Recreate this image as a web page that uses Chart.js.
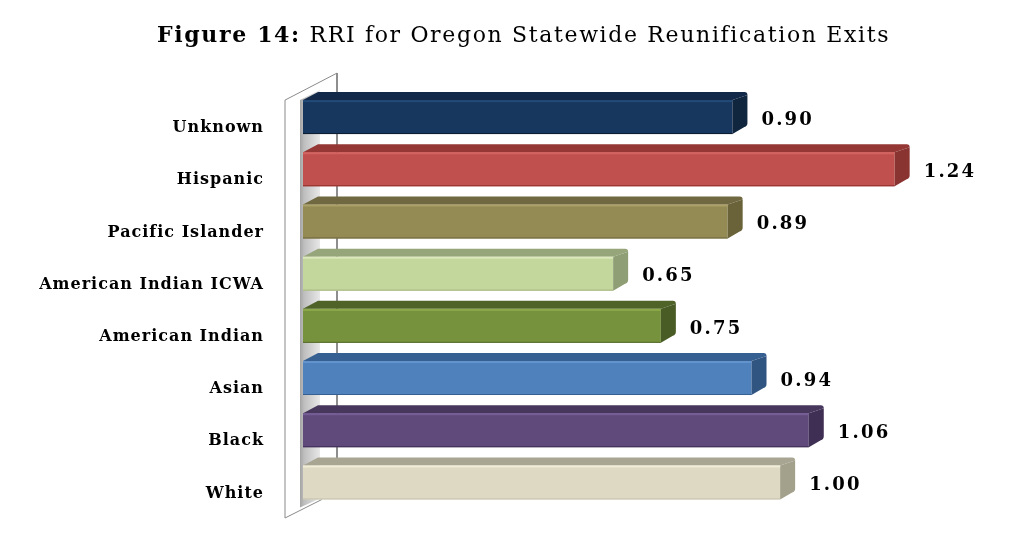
<!DOCTYPE html>
<html>
<head>
<meta charset="utf-8">
<style>html,body{margin:0;padding:0;background:#fff}canvas{display:block}</style>
<script src="https://cdn.jsdelivr.net/npm/chart.js@4"></script>
</head>
<body>
<canvas id="c" width="1024" height="535"></canvas>
<script>
const categories = ["Unknown","Hispanic","Pacific Islander","American Indian ICWA","American Indian","Asian","Black","White"];
const rri = [0.90,1.24,0.89,0.65,0.75,0.94,1.06,1.00];
const frontColors = ["#17375E","#C0504D","#948A54","#C3D69B","#76923C","#4F81BD","#604A7B","#DDD9C3"];
const topColors = ["#12294A","#953735","#6F6840","#96A57A","#4F6228","#366092","#47375C","#A8A593"];
const sideColors = ["#10263F","#8A3432","#6A6239","#8F9E74","#4A5C26","#2F5580","#3F2F54","#A3A08C"];
const lightColors = ["#234B78","#D4625F","#AAA068","#DCE8BC","#8CA94C","#6394CE","#755C94","#F0ECD6"];
const edgeColors = ["#0B1D33","#8E2F2D","#6D653C","#A6B684","#556B2A","#35608F","#3E2E55","#C6C3B0"];
const titleBold = "Figure 14:";
const titleRest = " RRI for Oregon Statewide Reunification Exits";
const SERIF = '"DejaVu Serif"';
const DX = 15, DY = 8;

const chrome = {
  id:"chrome",
  beforeDraw(chart){ chart.ctx.letterSpacing="1px"; },
  beforeDatasetsDraw(chart){
    const c = chart.ctx, a = chart.chartArea, bars = chart.getDatasetMeta(0).data;
    const L = a.left;
    const wallL = L-18, wallR = L+35, wallTop = bars[0].y-17, wallBot = a.bottom+9.5;
    c.save();
    c.strokeStyle="#8E8E8E"; c.lineWidth=2;
    c.beginPath(); c.moveTo(wallR-1,wallTop-27); c.lineTo(wallR-1,bars[7].y-20); c.stroke();
    const g = c.createLinearGradient(L-3,0,L+17,0);
    g.addColorStop(0,"#A4A4A4"); g.addColorStop(0.2,"#BEBEBE"); g.addColorStop(1,"#E8E8E8");
    c.fillStyle=g;
    c.beginPath();
    c.moveTo(L-3,bars[0].y-17); c.lineTo(L+17,bars[0].y-17-DY-2);
    c.lineTo(L+17,bars[7].y+17-1); c.lineTo(L-3,bars[7].y+17+8);
    c.closePath(); c.fill();
    c.strokeStyle="#8A8A8A"; c.lineWidth=1;
    c.beginPath();
    c.moveTo(wallR-1,wallTop-27); c.lineTo(wallL,wallTop); c.lineTo(wallL,wallBot);
    c.lineTo(L+19,bars[7].y+17); c.stroke();
    c.restore();
  },
  afterDatasetsDraw(chart){
    const c = chart.ctx, bars = chart.getDatasetMeta(0).data;
    c.save();
    bars.forEach((b,i)=>{
      const top=b.y-b.height/2, bot=b.y+b.height/2, x0=b.base, x1=b.x;
      c.fillStyle=topColors[i];
      c.beginPath(); c.moveTo(x0,top); c.lineTo(x0+DX,top-DY); c.lineTo(x1+DX-3,top-DY);
      c.quadraticCurveTo(x1+DX,top-DY,x1+DX,top-DY+3); c.lineTo(x1,top); c.closePath(); c.fill();
      c.fillStyle=sideColors[i];
      c.beginPath(); c.moveTo(x1,top); c.lineTo(x1+DX,top-DY+3); c.lineTo(x1+DX,bot-DY-3);
      c.quadraticCurveTo(x1+DX,bot-DY,x1+DX-3,bot-DY+1); c.lineTo(x1,bot); c.closePath(); c.fill();
      c.fillStyle=lightColors[i]; c.fillRect(x0,top,x1-x0,2);
      c.fillStyle=edgeColors[i]; c.fillRect(x0,bot-1,x1-x0,1);
      c.fillStyle="#000";
      c.font="bold 18px "+SERIF; c.textAlign="left"; c.textBaseline="middle";
      c.letterSpacing="2.2px";
      c.fillText(rri[i].toFixed(2),x1+29,b.y+3);
    });
    c.fillStyle="#000"; c.textBaseline="alphabetic"; c.textAlign="left"; c.letterSpacing="1.65px";
    c.font="bold 22px "+SERIF;
    const w=c.measureText(titleBold).width;
    c.fillText(titleBold,157,42);
    c.font="22px "+SERIF;
    c.fillText(titleRest,157+w,42);
    c.restore();
  }
};

new Chart(document.getElementById("c"),{
  type:"bar",
  data:{labels:categories,datasets:[{data:rri,backgroundColor:frontColors,borderWidth:0,barPercentage:0.651,categoryPercentage:1}]},
  options:{
    indexAxis:"y",responsive:false,animation:false,
    layout:{padding:{left:0,top:91,right:53,bottom:26.5}},
    plugins:{legend:{display:false},tooltip:{enabled:false}},
    scales:{
      x:{display:false,min:0,max:1.4},
      y:{
        afterFit(s){s.width=303;s.paddingTop=0;s.paddingBottom=0;},
        grid:{display:false},border:{display:false},
        ticks:{color:"#000",padding:31,labelOffset:11,font:{family:SERIF,weight:"bold",size:16}}
      }
    }
  },
  plugins:[chrome]
});
</script>
</body>
</html>
